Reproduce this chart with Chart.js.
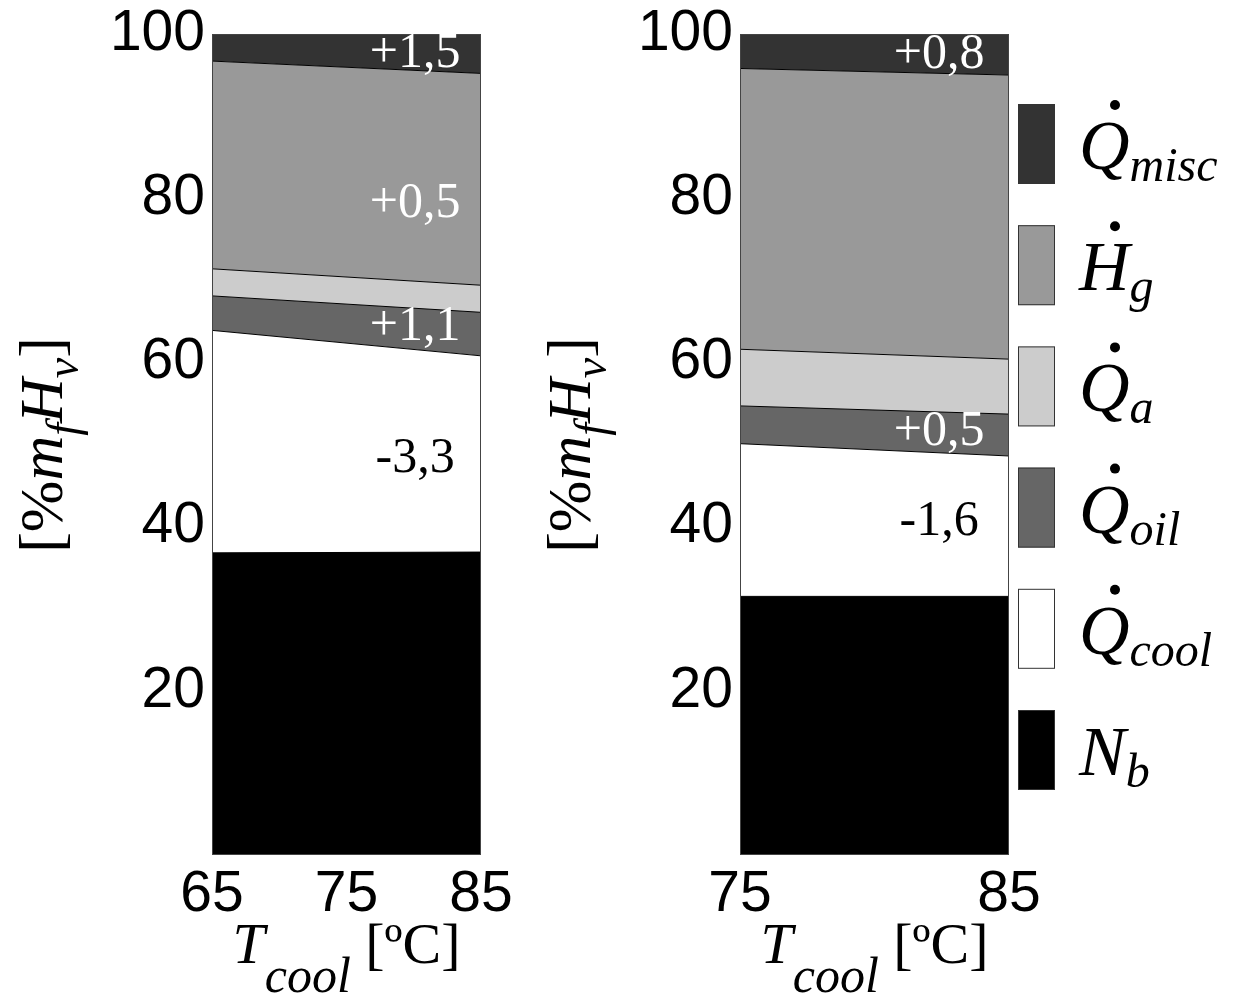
<!DOCTYPE html>
<html>
<head>
<meta charset="utf-8">
<script src="https://cdn.jsdelivr.net/npm/chart.js@4.4.1/dist/chart.umd.min.js"></script>
<style>
  html, body { margin: 0; padding: 0; background: #fff; overflow: hidden; }
  canvas { position: absolute; top: 0; }
  #left { left: 0; }
  #right { left: 528px; }
</style>
</head>
<body>
<canvas id="left" width="528" height="1001"></canvas>
<canvas id="right" width="709" height="1001"></canvas>
<script>
// layers, bottom to top
const seriesSymbol = ['N', 'Q', 'Q', 'Q', 'H', 'Q'];
const seriesSub = ['b', 'cool', 'oil', 'a', 'g', 'misc'];
const seriesDot = [false, true, true, true, true, true];
const seriesColor = ['#000000', '#ffffff', '#666666', '#cccccc', '#999999', '#333333'];

// left panel, T_cool 65..85
const tempLeft = [65, 85];
const nbLeft = [36.8, 36.9];
const coolLeft = [27.1, 23.9];
const oilLeft = [4.2, 5.3];
const airLeft = [3.3, 3.3];
const gasLeft = [25.3, 25.8];
const miscLeft = [3.3, 4.8];

// right panel, T_cool 75..85
const tempRight = [75, 85];
const nbRight = [31.5, 31.5];
const coolRight = [18.6, 17.1];
const oilRight = [4.6, 5.1];
const airRight = [6.9, 6.7];
const gasRight = [34.2, 34.6];
const miscRight = [4.2, 5.0];

const yTicks = [20, 40, 60, 80, 100];
const xTicksLeft = [65, 75, 85];
const xTicksRight = [75, 85];

// change labels written in the bands
const notesLeft = [
  { text: '+1,5', x: 80.1, y: 97.6, color: '#fff' },
  { text: '+0,5', x: 80.1, y: 79.3, color: '#fff' },
  { text: '+1,1', x: 80.1, y: 64.3, color: '#fff' },
  { text: '-3,3', x: 80.1, y: 48.2, color: '#000' },
];
const notesRight = [
  { text: '+0,8', x: 82.4, y: 97.4, color: '#fff' },
  { text: '+0,5', x: 82.4, y: 51.5, color: '#fff' },
  { text: '-1,6', x: 82.4, y: 40.6, color: '#000' },
];

const SERIF = '"Liberation Serif", "Times New Roman", serif';
const SANS = '"Liberation Sans", Arial, sans-serif';

function makeDatasets(temps, layers) {
  return layers.map((vals, i) => ({
    label: seriesSymbol[i] + '_' + seriesSub[i],
    data: vals.map((v, k) => ({ x: temps[k], y: v })),
    backgroundColor: seriesColor[i],
    borderColor: '#000',
    borderWidth: 1,
    pointRadius: 0,
    tension: 0,
    fill: i === 0 ? 'origin' : '-1',
  }));
}

// draws a run of [text, style, size, dy] pieces starting at x
function drawPieces(ctx, pieces, x, y) {
  pieces.forEach(([t, style, size, dy]) => {
    ctx.font = style + ' ' + size + 'px ' + SERIF;
    ctx.fillText(t, x, y + dy);
    x += ctx.measureText(t).width;
  });
  return x;
}

function piecesWidth(ctx, pieces) {
  let w = 0;
  pieces.forEach(([t, style, size]) => {
    ctx.font = style + ' ' + size + 'px ' + SERIF;
    w += ctx.measureText(t).width;
  });
  return w;
}

const decor = {
  id: 'decor',
  afterDatasetsDraw(chart, args, opts) {
    const { ctx, chartArea: a, scales } = chart;
    ctx.save();
    ctx.strokeStyle = '#444';
    ctx.lineWidth = 1;
    ctx.strokeRect(a.left + 0.5, a.top + 0.5, a.right - a.left - 1, a.bottom - a.top - 1);

    ctx.font = '50px ' + SERIF;
    ctx.textAlign = 'center';
    ctx.textBaseline = 'middle';
    opts.notes.forEach(n => {
      ctx.fillStyle = n.color;
      ctx.fillText(n.text, scales.x.getPixelForValue(n.x), scales.y.getPixelForValue(n.y));
    });
    ctx.restore();
  },
  afterDraw(chart, args, opts) {
    const { ctx, chartArea: a } = chart;
    ctx.save();
    ctx.fillStyle = '#000';
    ctx.textAlign = 'left';
    ctx.textBaseline = 'alphabetic';

    // y title, rotated
    const yParts = [
      ['[', 'normal', 62, 0], ['%', 'normal', 62, 0], ['m', 'italic', 62, 0],
      ['f', 'italic', 46, 16], ['H', 'italic', 62, 0], ['v', 'italic', 46, 16],
      [']', 'normal', 62, 0],
    ];
    ctx.save();
    ctx.translate(a.left - 150, 445);
    ctx.rotate(-Math.PI / 2);
    drawPieces(ctx, yParts, -piecesWidth(ctx, yParts) / 2, 0);
    ctx.restore();

    // x title
    const xParts = [
      ['T', 'italic', 58, 0], ['cool', 'italic', 50, 29], [' ', 'normal', 58, 0],
      ['[ºC]', 'normal', 58, 0],
    ];
    const cx = (a.left + a.right) / 2;
    drawPieces(ctx, xParts, cx - piecesWidth(ctx, xParts) / 2, a.bottom + 108);

    if (opts.legend) {
      const ds = chart.data.datasets;
      const n = ds.length;
      for (let k = 0; k < n; k++) {
        const i = n - 1 - k;
        const rowY = 144 + k * 121.2;
        const bx = a.right + 9;
        ctx.fillStyle = ds[i].backgroundColor;
        ctx.fillRect(bx, rowY - 40, 37, 80);
        ctx.strokeStyle = '#333';
        ctx.lineWidth = 1;
        ctx.strokeRect(bx + 0.5, rowY - 39.5, 36, 79);

        ctx.fillStyle = '#000';
        const tx = bx + 61;
        const base = rowY + 25;
        const end = drawPieces(ctx, [[seriesSymbol[i], 'italic', 70, 0]], tx, base);
        drawPieces(ctx, [[seriesSub[i], 'italic', 48, 12]], end, base);
        if (seriesDot[i]) {
          ctx.beginPath();
          ctx.arc(tx + 36, base - 64, 5, 0, Math.PI * 2);
          ctx.fill();
        }
      }
    }
    ctx.restore();
  },
};

function makeChart(id, temps, layers, xTicks, notes, padRight, legend) {
  return new Chart(document.getElementById(id), {
    type: 'line',
    data: { datasets: makeDatasets(temps, layers) },
    options: {
      responsive: false,
      animation: false,
      devicePixelRatio: 1,
      layout: { padding: { top: 34, right: padRight, left: 0, bottom: 0 } },
      plugins: {
        legend: { display: false },
        tooltip: { enabled: false },
        decor: { notes, legend },
      },
      scales: {
        x: {
          type: 'linear',
          min: temps[0],
          max: temps[temps.length - 1],
          grid: { display: false, drawTicks: false },
          border: { display: false },
          afterBuildTicks: s => { s.ticks = xTicks.map(v => ({ value: v })); },
          afterFit: s => {
            s.height = 146;
            s.paddingLeft = 0;
            s.paddingRight = 0;
          },
          ticks: {
            autoSkip: false,
            maxRotation: 0,
            padding: 6,
            color: '#000',
            font: { family: SANS, size: 57 },
          },
        },
        y: {
          stacked: true,
          min: 0,
          max: 100,
          grid: { display: false, drawTicks: false },
          border: { display: false },
          afterBuildTicks: s => { s.ticks = yTicks.map(v => ({ value: v })); },
          afterFit: s => {
            s.width = 212;
            s.paddingTop = 0;
            s.paddingBottom = 0;
          },
          ticks: {
            padding: 7,
            color: '#000',
            font: { family: SANS, size: 57 },
          },
        },
      },
    },
    plugins: [decor],
  });
}

makeChart('left', tempLeft,
  [nbLeft, coolLeft, oilLeft, airLeft, gasLeft, miscLeft],
  xTicksLeft, notesLeft, 47, false);

makeChart('right', tempRight,
  [nbRight, coolRight, oilRight, airRight, gasRight, miscRight],
  xTicksRight, notesRight, 228, true);
</script>
</body>
</html>
